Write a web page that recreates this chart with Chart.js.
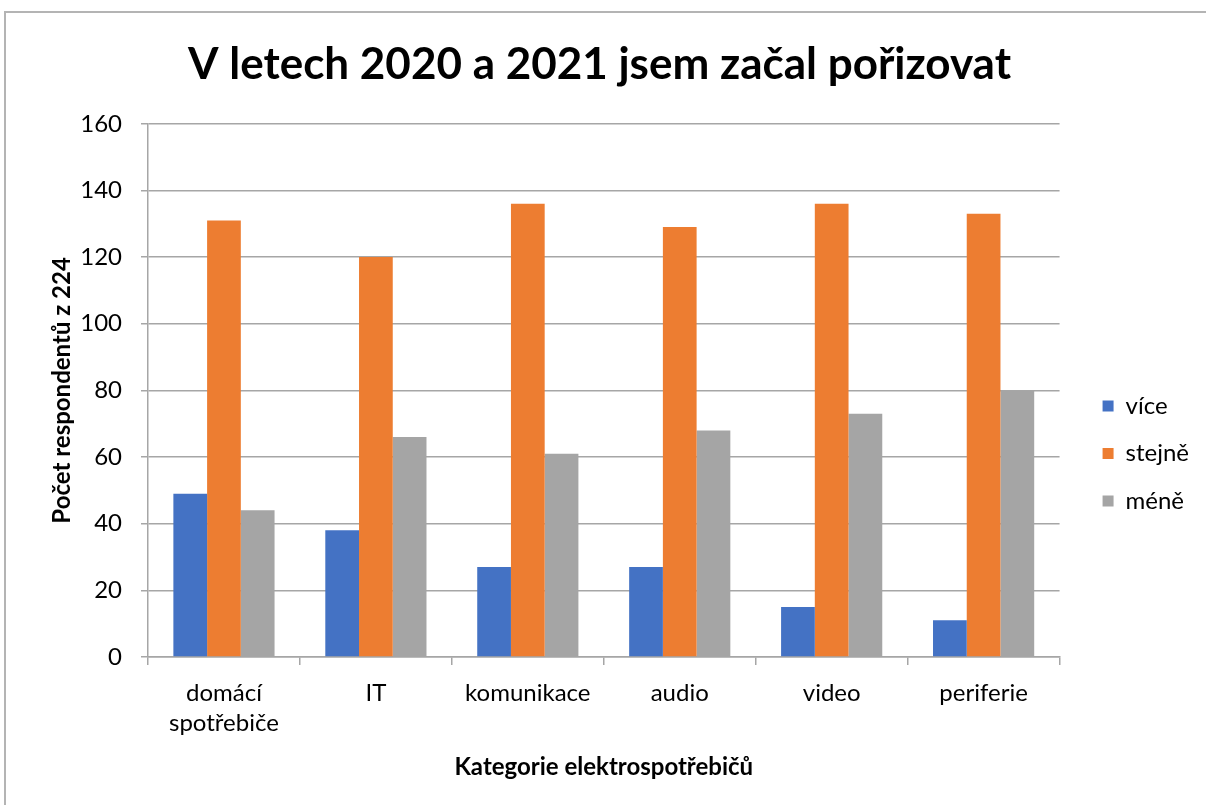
<!DOCTYPE html>
<html lang="cs">
<head>
  <meta charset="UTF-8" />
  <title>V letech 2020 a 2021 jsem začal pořizovat</title>
  <style>
    body { margin: 0; background: #fff; }
    #frame {
      position: absolute; left: 4px; top: 11px; width: 1300px; height: 900px;
      border-left: 2px solid #b4b4b4; border-top: 2px solid #b4b4b4;
    }
    #chart { position: absolute; left: 0; top: 0; }
  </style>
</head>
<body>
  <div id="frame"></div>
  <canvas id="chart" width="1206" height="805"></canvas>

  <script src="https://cdn.jsdelivr.net/npm/chart.js"></script>
  <script>
    // categories and values
    const categories = [['domácí', 'spotřebiče'], 'IT', 'komunikace', 'audio', 'video', 'periferie'];
    const vice = [49, 38, 27, 27, 15, 11];
    const stejne = [131, 120, 136, 129, 136, 133];
    const mene = [44, 66, 61, 68, 73, 80];
    const yTicks = [0, 20, 40, 60, 80, 100, 120, 140, 160];

    const FONT = 'Lato';
    const gridColor = '#a6a6a6';

    const ctx = document.getElementById('chart').getContext('2d');
    new Chart(ctx, {
      type: 'bar',
      data: {
        labels: categories,
        datasets: [
          { label: 'více', data: vice, backgroundColor: '#4472c4' },
          { label: 'stejně', data: stejne, backgroundColor: '#ed7d31' },
          { label: 'méně', data: mene, backgroundColor: '#a5a5a5' }
        ]
      },
      options: {
        responsive: false,
        animation: false,
        datasets: {
          bar: { categoryPercentage: 0.666, barPercentage: 1.0, borderWidth: 0 }
        },
        layout: { padding: { right: 7 } },
        scales: {
          x: {
            grid: {
              offset: true, drawOnChartArea: false, tickLength: 8,
              color: gridColor, lineWidth: 1.5
            },
            border: { color: gridColor, width: 1.5 },
            ticks: {
              color: '#000', padding: 13,
              font: { family: FONT, size: 24, lineHeight: 1.25 }
            },
            title: {
              display: true, text: 'Kategorie elektrospotřebičů', color: '#000',
              font: { family: FONT, size: 24, weight: 'bold' },
              padding: { top: 0, bottom: 23.6 }
            },
            afterFit: s => { s.height = 148; }
          },
          y: {
            min: 0, max: 160,
            afterBuildTicks: s => { s.ticks = yTicks.map(v => ({ value: v })); },
            grid: { color: gridColor, lineWidth: 1.5, tickLength: 7 },
            border: { color: gridColor, width: 1.5 },
            ticks: {
              color: '#000', padding: 19,
              font: { family: FONT, size: 24 }
            },
            title: {
              display: true, text: 'Počet respondentů z 224', color: '#000',
              font: { family: FONT, size: 24, weight: 'bold' },
              padding: { top: 47.6, bottom: 0 }
            },
            afterFit: s => { s.width = 148; }
          },
          // empty spacer so the legend sits where it does in the picture
          spacer: {
            type: 'linear', position: 'right', display: true,
            grid: { display: false }, border: { display: false },
            ticks: { display: false },
            afterFit: s => { s.width = 19.5; }
          }
        },
        plugins: {
          title: {
            display: true,
            text: 'V letech 2020 a 2021 jsem začal pořizovat',
            color: '#000',
            font: { family: FONT, size: 44, weight: 'bold' },
            padding: { top: 38, bottom: 33 }
          },
          legend: {
            position: 'right',
            title: { display: true, text: ' ', font: { size: 10 }, padding: { top: 90, bottom: 0 } },
            labels: {
              boxWidth: 11, boxHeight: 11, padding: 23.5, color: '#000',
              font: { family: FONT, size: 24 }
            }
          },
          tooltip: { enabled: false }
        }
      }
    });
  </script>
</body>
</html>
